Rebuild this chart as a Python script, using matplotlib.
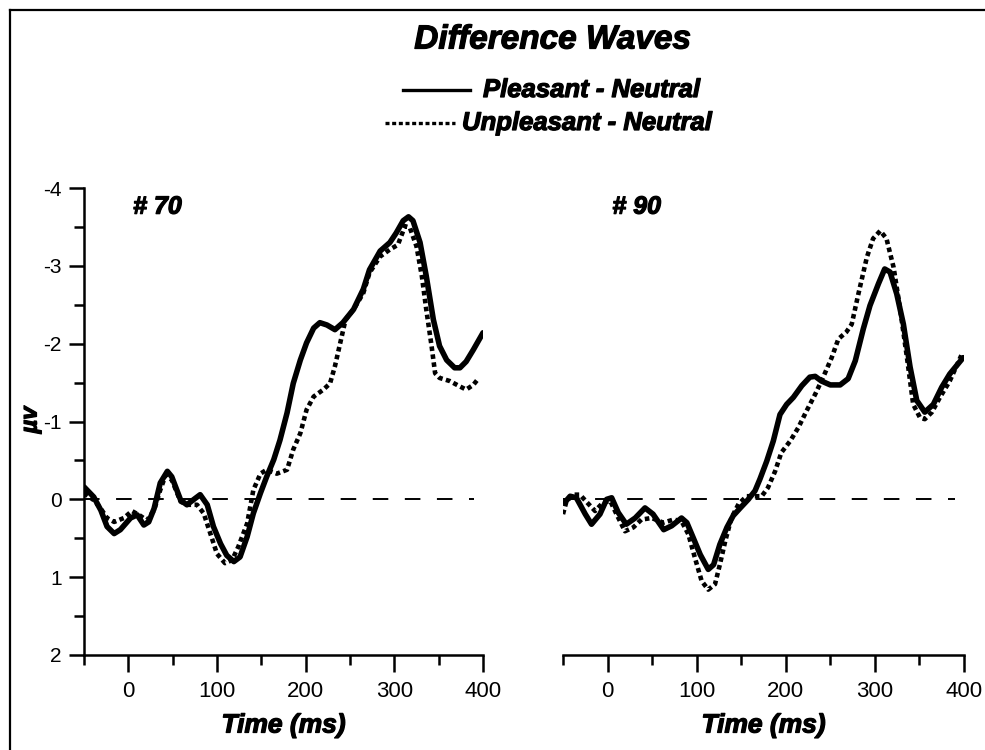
import numpy as np
import matplotlib.pyplot as plt
import matplotlib.patheffects as pe
from matplotlib.lines import Line2D
from matplotlib.ticker import MultipleLocator

# --- data (time in ms, amplitude in microvolts) ---
t70_pleasant = [-50, -39, -31, -24, -16, -9, 2.5, 10, 17.5, 23, 29, 36, 44, 49, 59, 66, 74, 81, 89,
                96, 104, 111, 119, 126, 134, 141, 149, 156, 164, 171, 179, 186, 194, 201, 209, 216,
                224, 233, 242, 254, 265, 272, 284, 295, 302, 310, 316, 321, 329, 336, 344, 351, 359,
                368, 374, 381, 389, 400]
v70_pleasant = [-0.16, -0.03, 0.14, 0.35, 0.44, 0.39, 0.24, 0.20, 0.33, 0.29, 0.12, -0.21, -0.36,
                -0.29, 0.01, 0.07, 0.0, -0.06, 0.07, 0.35, 0.57, 0.72, 0.80, 0.74, 0.48, 0.18, -0.08,
                -0.29, -0.51, -0.76, -1.11, -1.49, -1.79, -2.01, -2.20, -2.27, -2.24, -2.18, -2.27,
                -2.44, -2.70, -2.95, -3.19, -3.30, -3.42, -3.58, -3.63, -3.58, -3.30, -2.87, -2.31,
                -1.97, -1.79, -1.69, -1.69, -1.77, -1.92, -2.14]

t70_unpleasant = [-50, -39, -31, -24, -16, -5, 4, 12, 21, 29, 36, 42, 49, 59, 66, 77.5, 85, 92.5,
                  100, 109, 117, 124, 134, 141, 149, 156, 167.5, 179, 186, 194, 201, 209, 220, 227.5,
                  233, 239, 245, 254, 265, 272, 284, 295, 304, 312, 317.5, 325, 331, 336, 342, 346,
                  351, 362.5, 374, 381, 389, 394]
v70_unpleasant = [-0.08, 0.01, 0.12, 0.24, 0.29, 0.24, 0.15, 0.20, 0.27, 0.14, -0.12, -0.31, -0.25,
                  0.03, 0.07, 0.07, 0.18, 0.44, 0.70, 0.82, 0.78, 0.61, 0.31, -0.12, -0.33, -0.38,
                  -0.33, -0.38, -0.64, -0.85, -1.15, -1.32, -1.41, -1.49, -1.71, -2.01, -2.31, -2.44,
                  -2.65, -2.91, -3.12, -3.21, -3.27, -3.51, -3.49, -3.25, -2.87, -2.44, -1.97, -1.62,
                  -1.56, -1.52, -1.45, -1.41, -1.47, -1.54]

t90_pleasant = [-48, -42, -35, -25, -18, -8.5, -1, 4.6, 12, 21, 31, 42, 51, 63, 72, 83, 89, 96, 104,
                113, 119, 126, 134, 141, 149, 158, 165.5, 171, 178.6, 186, 193.5, 201, 208.5, 218,
                227, 233, 240, 250, 261, 270, 278, 287, 294.5, 304, 311, 317, 324.5, 332, 339.5, 347,
                356, 365.6, 375, 384, 399]
v90_pleasant = [0.04, -0.04, -0.02, 0.19, 0.32, 0.19, 0.0, -0.02, 0.17, 0.32, 0.24, 0.11, 0.19,
                0.39, 0.34, 0.24, 0.30, 0.49, 0.71, 0.90, 0.84, 0.58, 0.36, 0.21, 0.11, 0.0, -0.11,
                -0.26, -0.49, -0.75, -1.09, -1.22, -1.31, -1.46, -1.57, -1.58, -1.52, -1.47, -1.47,
                -1.55, -1.78, -2.19, -2.49, -2.77, -2.96, -2.92, -2.64, -2.25, -1.70, -1.27, -1.12,
                -1.22, -1.44, -1.61, -1.82]

t90_unpleasant = [-50, -46, -38, -31, -23, -14, -5, 3, 10, 19.6, 29, 38, 49.5, 62.6, 74, 83, 90.7,
                  98, 105.6, 113, 120.6, 126, 132, 139, 147, 156, 163.6, 173, 180, 188, 195, 205, 214,
                  223.5, 233, 242, 251.5, 259, 268, 274, 281.5, 291, 298, 306, 313, 321, 328, 336,
                  343, 350.6, 356, 364, 373, 384, 397]
v90_unpleasant = [0.19, 0.02, -0.06, -0.06, 0.04, 0.15, 0.04, 0.02, 0.19, 0.41, 0.36, 0.26, 0.24,
                  0.30, 0.26, 0.28, 0.45, 0.75, 1.05, 1.16, 1.09, 0.84, 0.54, 0.24, 0.06, -0.04,
                  -0.04, -0.04, -0.15, -0.36, -0.60, -0.75, -0.92, -1.14, -1.35, -1.57, -1.82, -2.06,
                  -2.15, -2.25, -2.64, -3.11, -3.35, -3.45, -3.35, -2.98, -2.47, -1.82, -1.22, -1.05,
                  -1.03, -1.12, -1.31, -1.52, -1.85]

panels = ['# 70', '# 90']
series_names = ['Pleasant - Neutral', 'Unpleasant - Neutral']
x_ticks = [0, 100, 200, 300, 400]
y_ticks = [-4, -3, -2, -1, 0, 1, 2]

# heavy oblique lettering like the original print
heavy = [pe.withStroke(linewidth=0.9, foreground='black')]
bi = dict(family='Liberation Sans', weight='bold', style='italic', path_effects=heavy)
tick_font = 'Liberation Sans'

solid_kw = dict(color='black', lw=4.0, solid_capstyle='round', solid_joinstyle='round')
dot_kw = dict(color='black', lw=3.3, linestyle=(0, (1, 0.75)), dash_capstyle='butt')
zero_kw = dict(color='black', lw=1.4, linestyle=(0, (8, 8.5)))

fig = plt.figure(figsize=(9.85, 7.5), dpi=100)
ax1 = fig.add_axes([84 / 985, 95 / 750, 399 / 985, 467 / 750])
ax2 = fig.add_axes([563 / 985, 95 / 750, 401 / 985, 467 / 750])

data = [(ax1, t70_pleasant, v70_pleasant, t70_unpleasant, v70_unpleasant),
        (ax2, t90_pleasant, v90_pleasant, t90_unpleasant, v90_unpleasant)]

for i, (ax, tp, vp, tu, vu) in enumerate(data):
    ax.plot([-50, 390], [0, 0], **zero_kw)
    ax.plot(tu, vu, **dot_kw)
    ax.plot(tp, vp, **solid_kw)
    ax.set_xlim(-50, 400)
    ax.set_ylim(2, -4)
    ax.set_xticks(x_ticks)
    ax.xaxis.set_minor_locator(MultipleLocator(50))
    ax.tick_params(axis='x', which='major', direction='out', length=12, width=1.8, pad=7)
    ax.tick_params(axis='x', which='minor', direction='out', length=7, width=1.8)
    for s in ['top', 'right']:
        ax.spines[s].set_visible(False)
    ax.spines['bottom'].set_linewidth(1.8)
    for lab in ax.get_xticklabels():
        lab.set_family(tick_font)
        lab.set_fontsize(16)
    ax.set_xlabel('Time (ms)', fontsize=19, labelpad=8, **bi)
    ax.text(0.123, 0.96, panels[i], transform=ax.transAxes,
            fontsize=18, ha='left', va='center', **bi)
    if i == 0:
        ax.set_yticks(y_ticks)
        ax.set_yticklabels([str(v) for v in y_ticks])
        ax.yaxis.set_minor_locator(MultipleLocator(0.5))
        ax.tick_params(axis='y', which='major', direction='out', length=11, width=1.8, pad=5)
        ax.tick_params(axis='y', which='minor', direction='out', length=7, width=1.8)
        ax.spines['left'].set_linewidth(1.8)
        for lab in ax.get_yticklabels():
            lab.set_family(tick_font)
            lab.set_fontsize(15)
    else:
        ax.spines['left'].set_visible(False)
        ax.set_yticks([])

fig.text(30 / 985, 1 - 420 / 750, 'µv', rotation=90, fontsize=17, ha='center', va='center', **bi)

# title and hand-made legend
fig.text(553 / 985, 1 - 40 / 750, 'Difference Waves', fontsize=24, ha='center', va='center', **bi)
fig.add_artist(Line2D([403 / 985, 470 / 985], [1 - 90 / 750] * 2, transform=fig.transFigure,
                      color='black', lw=2.4))
fig.text(483 / 985, 1 - 90 / 750, series_names[0], fontsize=18.5, ha='left', va='center', **bi)
fig.add_artist(Line2D([385 / 985, 455 / 985], [1 - 123 / 750] * 2, transform=fig.transFigure,
                      color='black', lw=2.4, linestyle=(0, (1.2, 0.8))))
fig.text(462 / 985, 1 - 123 / 750, series_names[1], fontsize=18.5, ha='left', va='center', **bi)

# scan border on top and left
fig.add_artist(Line2D([9.5 / 985, 1], [1 - 9.5 / 750] * 2, transform=fig.transFigure,
                      color='black', lw=1.6))
fig.add_artist(Line2D([9.5 / 985] * 2, [0, 1 - 9.5 / 750], transform=fig.transFigure,
                      color='black', lw=1.6))

fig.savefig('out.png', dpi=100)
